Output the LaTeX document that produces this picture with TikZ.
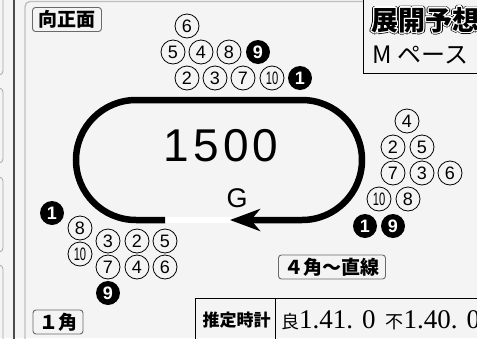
\documentclass[tikz,border=0pt]{standalone}
\usepackage{fontspec}
\usepackage{graphicx}
\setmainfont{Liberation Sans}
\newfontfamily\jp{Noto Sans CJK JP}
\newfontfamily\mincho{Liberation Serif}
\usetikzlibrary{arrows.meta,calc}
\definecolor{fondo}{RGB}{244,244,244}
\definecolor{borde}{RGB}{105,105,105}
\newcommand{\tam}[1]{\fontsize{#1}{#1}\selectfont}
\newcommand{\diez}{\scalebox{0.62}[1]{10}}

\tikzset{cab/.style={circle, draw, line width=0.8pt, minimum size=24pt, inner sep=0pt, font=\tam{18}},
         cabn/.style={circle, fill=black, text=white, minimum size=24pt, inner sep=0pt, font=\tam{18}\bfseries},
         rot/.style={draw=borde, fill=fondo, rounded corners=3pt, line width=0.9pt, minimum height=24pt,
                     inner xsep=6pt, inner ysep=0pt, font=\jp\bfseries\tam{19}},
         tit/.style={anchor=west, font=\jp\bfseries\tam{27}},
         pista/.style={line width=6.5pt, rounded corners=60pt}}

\begin{document}
\begin{tikzpicture}[x=1pt, y=-1pt]
  \useasboundingbox (0,0) rectangle (477,338);
  \clip (0,0) rectangle (477,338);
  \fill[fondo] (0,0) rectangle (477,338);
  % marco izquierdo
  \draw[borde!60, line width=0.8pt, rounded corners=4pt] (-20,-10) rectangle (3,75);
  \draw[borde!60, line width=0.8pt, rounded corners=4pt] (-20,88) rectangle (3,163);
  \draw[borde!60, line width=0.8pt, rounded corners=4pt] (-20,177) rectangle (3,252);
  \draw[borde!60, line width=0.8pt, rounded corners=4pt] (-20,265) rectangle (3,360);
  \draw[black!70, line width=1.4pt] (14,-5) -- (14,345);
  \draw[gray!50, line width=1.4pt, rounded corners=5pt] (25,345) -- (25,1.5) -- (600,1.5);
  % recuadro del pronostico
  \fill[fondo] (363,-5) rectangle (490,73);
  \draw[line width=1pt] (363,-5) -- (363,73) -- (490,73);
  \foreach \a in {0,30,...,330} \node[tit, black] (sombra\a) at ($(368,20)+(\a:2)$) {展開予想};
  \foreach \a in {0,30,...,330} \node[tit, white] (halo\a) at ($(368,20)+(\a:1.2)$) {展開予想};
  \node[tit] (titulo) at (368,20) {展開予想};
  \node[anchor=west, font=\jp\tam{24}] (ritmo) at (369,55) {M ペース};
  % pista
  \coordinate (meta) at (230,220);
  \draw[white, line width=6.5pt] (165,220) -- (232,220);
  \draw[pista, -{Stealth[length=30pt, width=22pt, inset=9pt]}] (165,220) -- (76,220) -- (76,100) -- (362,100) -- (362,220) -- (meta);
  \node[font=\tam{46}\addfontfeature{LetterSpace=9}] (dist) at (221,146) {1500};
  \node[font=\tam{27}] (gol) at (237,198) {G};
  % rotulos
  \node[rot] (vm) at (67,19.5) {向正面};
  \node[rot] (c1) at (58,322) {１角};
  \node[rot] (c4) at (332,267) {４角～直線};
  % tiempo estimado
  \draw[line width=1pt] (195,345) -- (195,298) -- (490,298);
  \draw[line width=1pt] (275,298) -- (275,345);
  \node[anchor=west, font=\jp\bfseries\tam{17}] (est) at (199,320) {推定時計};
  \node[anchor=west, inner sep=0pt] (tiempo) at (281,320)
    {{\jp\tam{18}良}{\mincho\tam{27}1.41. 0}\hspace{10pt}{\jp\tam{18}不}{\mincho\tam{27}1.40. 0}};
  % posiciones en el lado opuesto
  \node[cab]  (a6)  at (187,26) {6};
  \node[cab]  (a5)  at (173,52) {5};
  \node[cab]  (a4)  at (201,52) {4};
  \node[cab]  (a8)  at (229,52) {8};
  \node[cabn] (a9)  at (258,52) {9};
  \node[cab]  (a2)  at (187,78) {2};
  \node[cab]  (a3)  at (215,78) {3};
  \node[cab]  (a7)  at (243,78) {7};
  \node[cab]  (a10) at (272,78) {\diez};
  \node[cabn] (a1)  at (300,78) {1};
  % posiciones en la curva 3-4
  \node[cab]  (b4)  at (407,121) {4};
  \node[cab]  (b2)  at (393,147) {2};
  \node[cab]  (b5)  at (422,147) {5};
  \node[cab]  (b7)  at (393,173) {7};
  \node[cab]  (b3)  at (422,173) {3};
  \node[cab]  (b6)  at (450,173) {6};
  \node[cab]  (b10) at (379,199) {\diez};
  \node[cab]  (b8)  at (408,199) {8};
  \node[cabn] (b1)  at (365,226) {1};
  \node[cabn] (b9)  at (393,226) {9};
  % posiciones en la curva 1
  \node[cabn] (c1n) at (52,213) {1};
  \node[cab]  (c8)  at (80,228) {8};
  \node[cab]  (c3)  at (108,241) {3};
  \node[cab]  (c2)  at (137,241) {2};
  \node[cab]  (c5)  at (165,241) {5};
  \node[cab]  (c10) at (80,254) {\diez};
  \node[cab]  (c7)  at (108,267) {7};
  \node[cab]  (c4n) at (137,267) {4};
  \node[cab]  (c6)  at (165,267) {6};
  \node[cabn] (c9)  at (108,293) {9};
\end{tikzpicture}
\end{document}
